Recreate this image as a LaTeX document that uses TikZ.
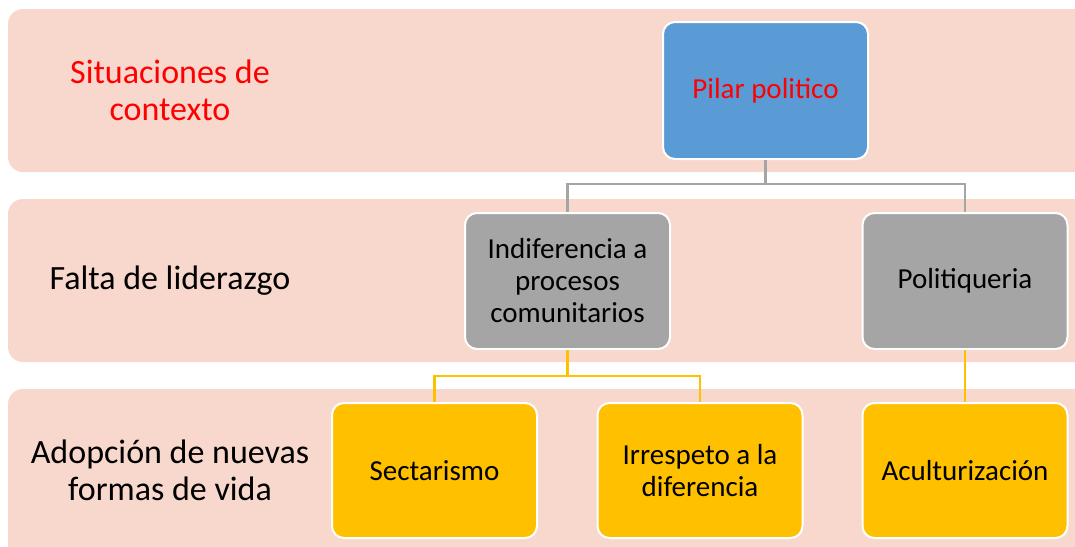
\documentclass[tikz,border=0pt]{standalone}
\usepackage{fontspec}
\setmainfont{Carlito}
\definecolor{bandc}{HTML}{F8D7CD}
\definecolor{bluec}{HTML}{5B9BD5}
\definecolor{greyc}{HTML}{A5A5A5}
\definecolor{yelc}{HTML}{FFC000}
\definecolor{redc}{HTML}{FF0000}
\begin{document}
\begin{tikzpicture}[x=1pt,y=-1pt,
  band/.style={fill=bandc,draw=none,rounded corners=15pt},
  boxn/.style={draw=white,line width=2pt,rounded corners=12pt,minimum width=205pt,minimum height=136pt,inner sep=0pt,align=center,font=\fontsize{29}{32}\selectfont},
  lab/.style={align=center,font=\fontsize{34}{37}\selectfont,inner sep=0pt},
  glink/.style={draw=greyc,line width=2.5pt},
  ylink/.style={draw=yelc,line width=2.5pt}]
\useasboundingbox (0,0) rectangle (1075,546);
\fill[band] (8,9) rectangle (1100,172);
\fill[band] (8,199) rectangle (1100,362);
\fill[band] (8,389) rectangle (1100,580);
\node[lab,text=redc] (l1) at (170,90) {Situaciones de\\contexto};
\node[lab] (l2) at (170,281) {Falta de liderazgo};
\node[lab] (l3) at (170,470) {Adopción de nuevas\\formas de vida};
\node[boxn,fill=bluec,text=redc,minimum height=137pt] (pilar) at (765.5,90.5) {Pilar politico};
\node[boxn,fill=greyc] (indif) at (567.5,281) {Indiferencia a\\procesos\\comunitarios};
\node[boxn,fill=greyc] (polit) at (965,281) {Politiqueria};
\node[boxn,fill=yelc,minimum height=135pt] (sect) at (434.5,470.5) {Sectarismo};
\node[boxn,fill=yelc,minimum height=135pt] (irr) at (700,470.5) {Irrespeto a la\\diferencia};
\node[boxn,fill=yelc,minimum height=135pt] (acul) at (965,470.5) {Aculturización};
\coordinate (busA) at (765.5,184);
\coordinate (busB) at (567.5,376);
\draw[glink] (pilar.south) -- (busA) -| (indif.north);
\draw[glink] (busA) -| (polit.north);
\draw[ylink] (indif.south) -- (busB) -| (sect.north);
\draw[ylink] (busB) -| (irr.north);
\draw[ylink] (polit.south) -- (acul.north);
\end{tikzpicture}
\end{document}
